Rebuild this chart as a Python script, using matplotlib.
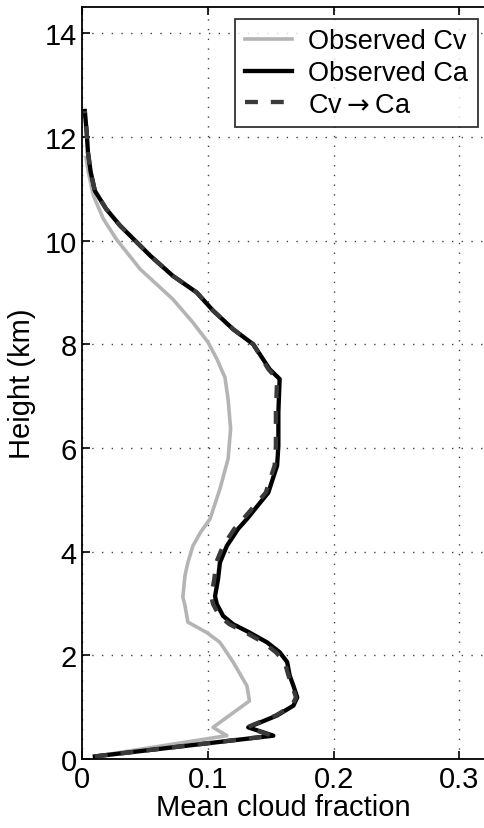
import matplotlib
matplotlib.use("Agg")
import matplotlib.pyplot as plt

# heights (km) and mean cloud fraction
h_ca = [0.05, 0.45, 0.61, 0.84, 1.03, 1.19, 1.41, 1.61, 1.87, 2.06, 2.25, 2.44, 2.60, 2.76,
        2.99, 3.14, 3.47, 3.79, 4.11, 4.44, 4.63, 5.14, 5.66, 6.04, 6.69, 7.33, 7.52, 8.0,
        8.29, 8.65, 9.0, 9.32, 9.71, 10.29, 10.61, 10.96, 11.32, 11.70, 12.09, 12.5]
ca = [0.010, 0.152, 0.132, 0.155, 0.168, 0.171, 0.168, 0.165, 0.163, 0.157, 0.147, 0.133,
      0.120, 0.112, 0.107, 0.1056, 0.108, 0.1095, 0.115, 0.124, 0.131, 0.148, 0.155, 0.156,
      0.156, 0.157, 0.149, 0.136, 0.120, 0.104, 0.091, 0.072, 0.054, 0.030, 0.019, 0.010,
      0.0067, 0.0045, 0.0035, 0.002]

cv_to_ca = [0.010, 0.151, 0.131, 0.154, 0.167, 0.170, 0.167, 0.164, 0.161, 0.154, 0.144, 0.130,
            0.117, 0.109, 0.104, 0.1026, 0.105, 0.1065, 0.112, 0.121, 0.128, 0.146, 0.153, 0.154,
            0.154, 0.155, 0.148, 0.136, 0.120, 0.104, 0.091, 0.072, 0.054, 0.030, 0.019, 0.010,
            0.0067, 0.0045, 0.0035, 0.002]

h_cv = [0.05, 0.45, 0.61, 1.12, 1.41, 1.87, 2.25, 2.44, 2.64, 2.96, 3.12, 3.54, 3.79, 4.11,
        4.37, 4.63, 5.21, 5.79, 6.37, 6.94, 7.36, 7.72, 8.04, 8.42, 8.87, 9.45, 10.03, 10.42,
        10.87, 11.32, 11.6]
cv = [0.010, 0.115, 0.104, 0.133, 0.131, 0.120, 0.1095, 0.099, 0.084, 0.0817, 0.080, 0.0817,
      0.084, 0.088, 0.094, 0.1016, 0.1095, 0.116, 0.118, 0.116, 0.1135, 0.107, 0.100, 0.088,
      0.072, 0.046, 0.027, 0.0167, 0.0088, 0.0048, 0.003]

plt.rcParams['font.family'] = ['Liberation Sans', 'DejaVu Sans']

fig = plt.figure(figsize=(4.84, 8.29), dpi=100)
ax = fig.add_axes([82.3 / 484, 69 / 829, (484 - 82.3) / 484, (760 - 8.3) / 829])

ax.plot(cv, h_cv, color='#b4b4b4', lw=2.6, label='Observed Cv')
ax.plot(ca, h_ca, color='black', lw=3.1, label='Observed Ca')
ax.plot(cv_to_ca, h_ca, color='#3a3a3a', lw=3.1, dashes=(3, 3), label=r'Cv$\rightarrow$Ca')

ax.set_xlim(0, 0.3196)
ax.set_ylim(0, 14.5)
ax.set_xticks([0, 0.1, 0.2, 0.3])
ax.set_xticklabels(['0', '0.1', '0.2', '0.3'])
ax.set_yticks(range(0, 15, 2))
ax.tick_params(direction='in', top=True, right=False, labelsize=21, length=6, width=1.2, pad=4)
ax.grid(True, linestyle=(0, (1, 6)), color='#444444', lw=1.0)
for s in ax.spines.values():
    s.set_linewidth(1.3)
ax.spines['right'].set_visible(False)

ax.set_xlabel('Mean cloud fraction', fontsize=21, labelpad=0)
ax.set_ylabel('Height (km)', fontsize=21, labelpad=6)

leg = ax.legend(loc='upper right', fontsize=19.5, frameon=True, fancybox=False, handlelength=1.75,
                bbox_to_anchor=(0.985, 0.985), borderaxespad=0.0, labelspacing=0.22,
                handletextpad=0.6, borderpad=0.35)
leg.get_frame().set_edgecolor('black')
leg.get_frame().set_linewidth(1.3)

fig.savefig('out.png', dpi=100)
